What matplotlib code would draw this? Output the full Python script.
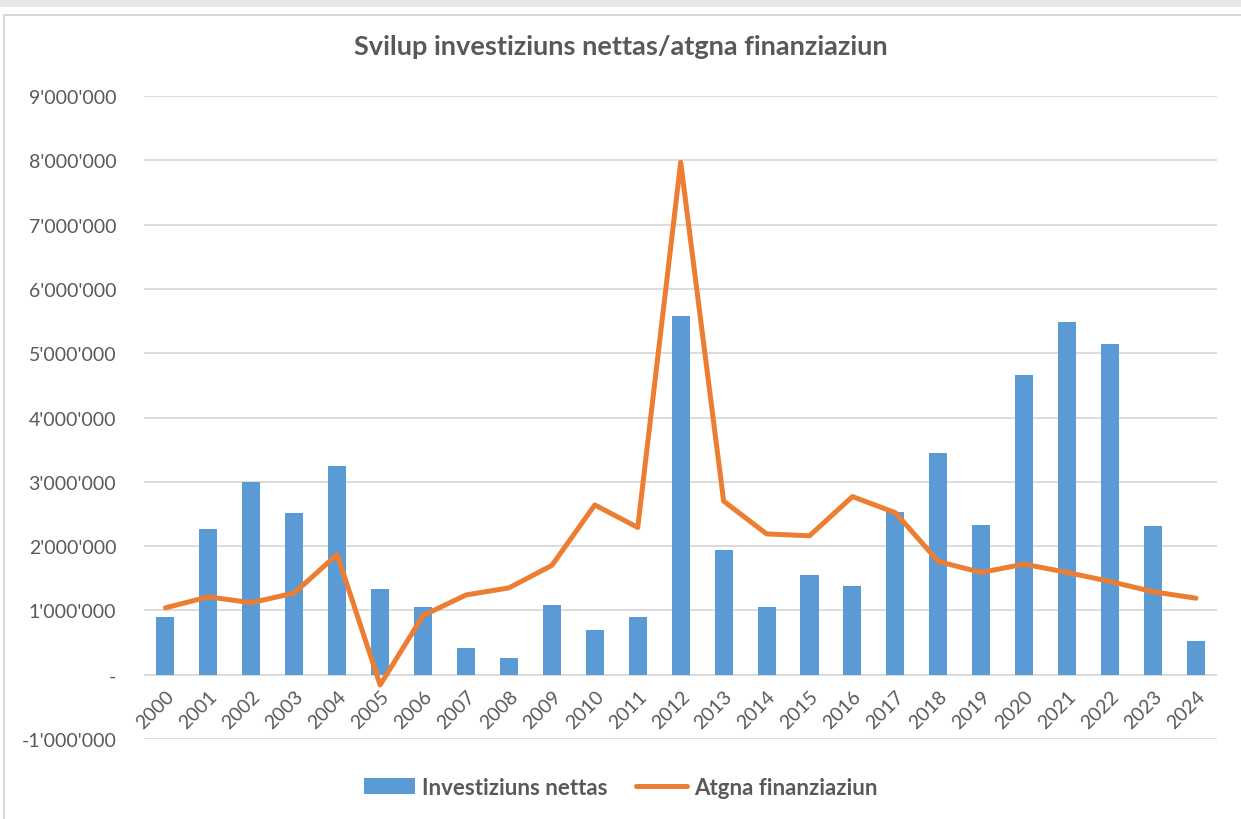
import matplotlib.pyplot as plt
from matplotlib.patches import Rectangle
from matplotlib.ticker import FuncFormatter

# data
years = [str(y) for y in range(2000, 2025)]
investiziuns_nettas = [0.90, 2.27, 3.00, 2.52, 3.25, 1.34, 1.06, 0.42, 0.26, 1.09,
                       0.70, 0.89, 5.58, 1.94, 1.06, 1.55, 1.38, 2.53, 3.45, 2.33,
                       4.66, 5.48, 5.15, 2.31, 0.52]
atgna_finanziaziun = [1.04, 1.21, 1.12, 1.27, 1.87, -0.16, 0.92, 1.24, 1.35, 1.70,
                      2.64, 2.29, 7.97, 2.70, 2.19, 2.16, 2.77, 2.52, 1.76, 1.59,
                      1.72, 1.59, 1.45, 1.29, 1.19]
investiziuns_nettas = [v * 1e6 for v in investiziuns_nettas]
atgna_finanziaziun = [v * 1e6 for v in atgna_finanziaziun]

plt.rcParams['font.family'] = ['Lato', 'DejaVu Sans']
grey = '#595959'

fig = plt.figure(figsize=(12.41, 8.2), dpi=100)
ax = fig.add_axes([0.116, 0.0976, 0.865, 0.784])

# category axis sits on the zero line (set first, it resets the ticks)
ax.spines['bottom'].set_position(('data', 0))

x = range(len(years))
bars = ax.bar(x, investiziuns_nettas, width=0.42, color='#5B9BD5', label='Investiziuns nettas', zorder=2)
line, = ax.plot(x, atgna_finanziaziun, color='#ED7D31', linewidth=3.6, solid_joinstyle='round',
                solid_capstyle='round', label='Atgna finanziaziun', zorder=3)

ax.set_xlim(-0.5, len(years) - 0.5)
ax.set_ylim(-1e6, 9e6)
ax.set_yticks([i * 1e6 for i in range(-1, 10)])


def fmt(v, pos):
    if abs(v) < 1:
        return '-'
    return f"{int(round(v)):,}".replace(',', "'")


ax.yaxis.set_major_formatter(FuncFormatter(fmt))
ax.set_xticks(list(x))
ax.set_xticklabels(years, rotation=45, ha='right', rotation_mode='anchor')
ax.tick_params(axis='both', length=0, colors=grey, labelsize=14)
ax.tick_params(axis='y', pad=20)
ax.tick_params(axis='x', pad=9)

ax.grid(axis='y', color='#D9D9D9', linewidth=1.3, zorder=0)
ax.set_axisbelow(True)
for s in ax.spines.values():
    s.set_visible(False)

fig.text(0.5, 0.943, 'Svilup investiziuns nettas/atgna finanziaziun', ha='center', va='center',
         fontsize=19.5, fontweight='bold', color=grey)

fig.legend([bars, line], ['Investiziuns nettas', 'Atgna finanziaziun'],
           loc='center', bbox_to_anchor=(0.5, 0.039), ncol=2, frameon=False,
           prop={'size': 16, 'weight': 'bold'}, labelcolor=grey, handlelength=2.3,
           columnspacing=1.3, handletextpad=0.3)

# light chart border like the spreadsheet frame
fig.patches.append(Rectangle((0, 0.99), 1, 0.01, transform=fig.transFigure,
                             facecolor='#E6E6E6', edgecolor='none'))
fig.patches.append(Rectangle((0.003, -0.01), 1.0, 0.99, transform=fig.transFigure,
                             facecolor='none', edgecolor='#D0D0D0', linewidth=1.2))

plt.savefig('out.png')
